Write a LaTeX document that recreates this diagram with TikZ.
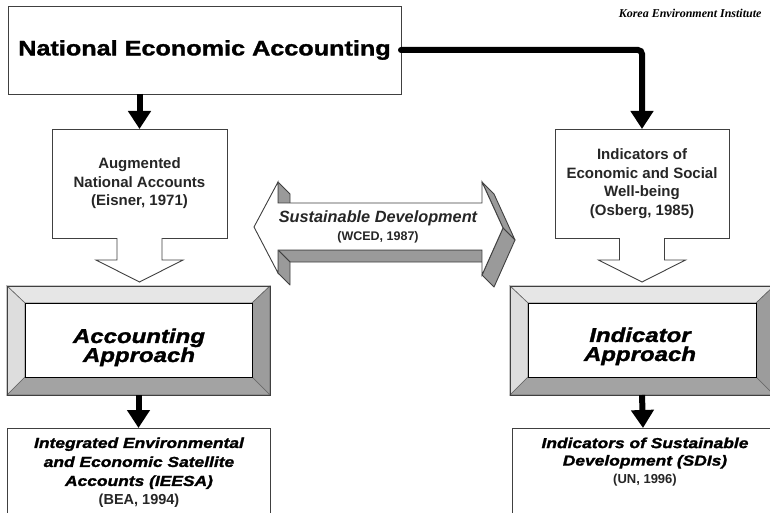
\documentclass[tikz,border=0pt]{standalone}
\usepackage{fontspec}
\setmainfont{Liberation Sans}
\newfontfamily\blk{Liberation Sans}[BoldFeatures={FakeBold=1.5,FakeStretch=1.2},BoldItalicFeatures={FakeBold=1.5,FakeStretch=1.2}]
\newfontfamily\kei{Liberation Serif}
\usetikzlibrary{arrows.meta,calc}
\definecolor{txt}{HTML}{262626}
\definecolor{bevT}{HTML}{E6E6E6}
\definecolor{bevL}{HTML}{DDDDDD}
\definecolor{bevR}{HTML}{9C9C9C}
\definecolor{bevB}{HTML}{A3A3A3}
\definecolor{sidegray}{HTML}{9A9A9A}
\newcommand\bevelframe[1]{%
  \filldraw[bevel,fill=bevT] (#1.north west) -- (#1.north east) -- ($(#1.north east)+(-18,17)$) -- ($(#1.north west)+(18,17)$) -- cycle;
  \filldraw[bevel,fill=bevL] (#1.north west) -- ($(#1.north west)+(18,17)$) -- ($(#1.south west)+(18,-18)$) -- (#1.south west) -- cycle;
  \filldraw[bevel,fill=bevR] (#1.north east) -- ($(#1.north east)+(-18,17)$) -- ($(#1.south east)+(-18,-18)$) -- (#1.south east) -- cycle;
  \filldraw[bevel,fill=bevB] (#1.south west) -- ($(#1.south west)+(18,-18)$) -- ($(#1.south east)+(-18,-18)$) -- (#1.south east) -- cycle;
  \draw[outline] (#1.north west) rectangle (#1.south east);
  \filldraw[draw=black,line width=1pt,fill=white] ($(#1.north west)+(18,17)$) rectangle ($(#1.south east)+(-18,-18)$);
}
\begin{document}
\begin{tikzpicture}[x=1pt,y=-1pt,
  outline/.style={draw=black!75,line width=0.9pt},
  bevel/.style={draw=black!60,line width=0.6pt},
  plainbox/.style={outline,fill=white,inner sep=0pt,outer sep=0pt},
  heavyarrow/.style={line width=6pt,-{Triangle[width=22pt,length=18pt]}},
  lbl/.style={text=txt,font=\bfseries\fontsize{15}{18.5}\selectfont,align=center},
  sideface/.style={outline,fill=sidegray,line join=round},
  frame/.style={inner sep=0pt,outer sep=0pt,minimum width=263,minimum height=109},
]
\clip (0,0) rectangle (770,513);
\fill[white] (0,0) rectangle (770,513);

% title
\node[plainbox,minimum width=393,minimum height=88,anchor=north west,
      font=\blk\bfseries\fontsize{21}{24}\selectfont] (nea) at (8,6) {National Economic Accounting};
\node[anchor=base east,font=\kei\bfseries\itshape\fontsize{12}{14}\selectfont] (kei) at (765,18) {Korea Environment Institute};

% upper boxes
\node[plainbox,minimum width=175,minimum height=109,anchor=north west,lbl] (aug) at (52,129)
  {Augmented\\National Accounts\\(Eisner, 1971)};
\node[plainbox,minimum width=174,minimum height=109,anchor=north west,lbl] (ind) at (555,129)
  {Indicators of\\Economic and Social\\Well-being\\(Osberg, 1985)};

% thick arrows from title
\draw[heavyarrow] (nea.south -| aug.north) -- (aug.north);
\draw[heavyarrow,rounded corners=4pt,line cap=round] (nea.east) -| (ind.north);

% approach frames
\node[frame] (acc) at (138.5,340.5) {};
\node[frame,minimum width=264] (iap) at (642,340.5) {};
\bevelframe{acc}
\bevelframe{iap}
\node[align=center,font=\blk\bfseries\itshape\fontsize{20}{19}\selectfont] (acctext) at (139,347.3) {Accounting\\Approach};
\node[align=center,font=\blk\bfseries\itshape\fontsize{20}{19}\selectfont] (iaptext) at (640,346.3) {Indicator\\Approach};

% hollow callout arrows
\foreach \b in {aug,ind}{
  \fill[white] ($(\b.south)+(-22.5,-1.5)$) -- ++(0,23.5) -- ++(-21,0) -- ($(\b.south)+(0,44)$)
     -- ($(\b.south)+(43.5,22)$) -- ($(\b.south)+(22.5,22)$) -- ($(\b.south)+(22.5,-1.5)$) -- cycle;
  \draw[outline,line join=miter] ($(\b.south)+(-22.5,0)$) -- ++(0,22) -- ++(-21,0) -- ($(\b.south)+(0,44)$)
     -- ($(\b.south)+(43.5,22)$) -- ($(\b.south)+(22.5,22)$) -- ($(\b.south)+(22.5,0)$);
}

% 3D double arrow
\filldraw[sideface] (278,182) -- (290,194) -- (290,215) -- (278,203) -- cycle;
\filldraw[sideface] (278,250) -- (482,250) -- (494,262) -- (290,262) -- cycle;
\filldraw[sideface] (278,250) -- (290,262) -- (290,285) -- (278,273) -- cycle;
\filldraw[sideface] (482,182) -- (503,228) -- (515,240) -- (494,194) -- cycle;
\filldraw[sideface] (503,228) -- (482,275) -- (494,287) -- (515,240) -- cycle;
\filldraw[outline,fill=white,line join=miter] (254,227) -- (278,182) -- (278,203) -- (482,203) -- (482,182)
  -- (503,228) -- (482,275) -- (482,250) -- (278,250) -- (278,273) -- cycle;
\node[anchor=base,text=txt,font=\bfseries\itshape\fontsize{16.3}{19}\selectfont] (sd) at (378,222) {Sustainable Development};
\node[anchor=base,text=txt,font=\bfseries\fontsize{12.5}{14}\selectfont] (wced) at (378,240) {(WCED, 1987)};

% lower boxes
\node[plainbox,minimum width=263,minimum height=110,anchor=north west] (iee) at (7,428) {};
\node[plainbox,minimum width=262,minimum height=110,anchor=north west] (sdi) at (512,428) {};
\node[align=center,font=\fontsize{14.5}{19}\selectfont] (ieetext) at (139,472.7)
  {{\blk\bfseries\itshape Integrated Environmental}\\{\blk\bfseries\itshape and Economic Satellite}\\{\blk\bfseries\itshape Accounts (IEESA)}\\{\bfseries\color{txt}(BEA, 1994)}};
\node[align=center,font=\fontsize{14.5}{17.5}\selectfont] (sditext) at (645,461.7)
  {{\blk\bfseries\itshape Indicators of Sustainable}\\{\blk\bfseries\itshape Development (SDIs)}\\{\bfseries\color{txt}\fontsize{13}{17.5}\selectfont (UN, 1996)}};

% arrows from approaches
\draw[heavyarrow] (acc.south) -- (iee.north);
\draw[heavyarrow] (iap.south) -- (sdi.north);
\end{tikzpicture}
\end{document}
